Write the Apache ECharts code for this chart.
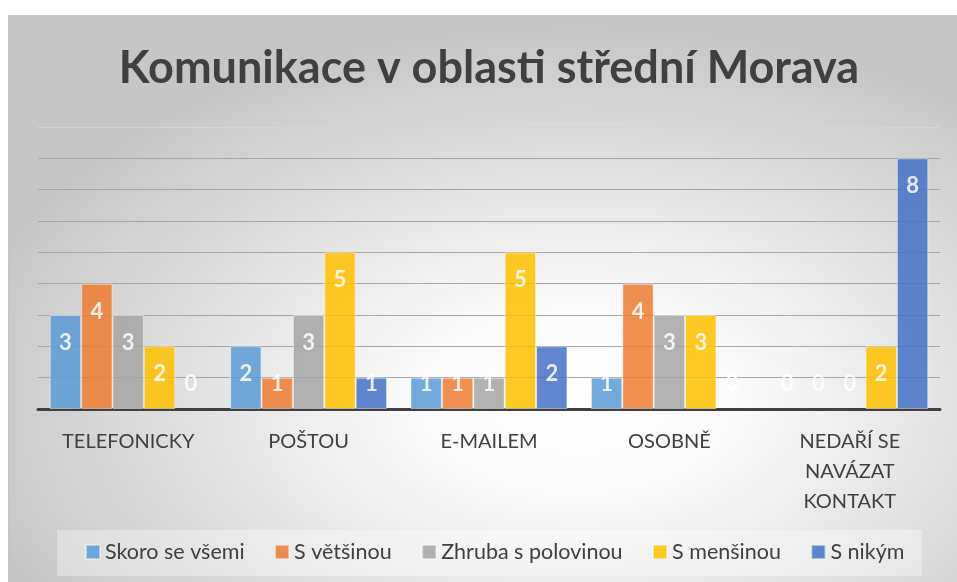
<!DOCTYPE html>
<html>
<head>
<meta charset="utf-8">
<script src="https://cdn.jsdelivr.net/npm/echarts@6/dist/echarts.min.js"></script>
<style>
  html, body { margin: 0; padding: 0; background: #ffffff; }
  #chart { width: 957px; height: 582px; }
</style>
</head>
<body>
<div id="chart"></div>
<script>
// Communication survey, region Central Moravia
const titleText = 'Komunikace v oblasti střední Morava';
const categories = ['TELEFONICKY', 'POŠTOU', 'E-MAILEM', 'OSOBNĚ', 'NEDAŘÍ SE\nNAVÁZAT\nKONTAKT'];
const seriesNames = ['Skoro se všemi', 'S většinou', 'Zhruba s polovinou', 'S menšinou', 'S nikým'];
const skoroSeVsemi = [3, 2, 1, 1, 0];
const sVetsinou = [4, 1, 1, 4, 0];
const zhrubaSPolovinou = [3, 3, 1, 3, 0];
const sMensinou = [2, 5, 5, 3, 2];
const sNikym = [0, 1, 2, 0, 8];
const seriesValues = [skoroSeVsemi, sVetsinou, zhrubaSPolovinou, sMensinou, sNikym];
const seriesColors = ['#5B9BD5', '#ED7D31', '#A5A5A5', '#FFC000', '#4472C4'];
const yMax = 9;

const FONT = 'Lato, "Open Sans", sans-serif';

const chart = echarts.init(document.getElementById('chart'), null, { renderer: 'canvas' });

// short bars get their value label lifted above the baseline
const lowLabel = { position: 'insideBottom', distance: 14 };

function barItem(v) {
  if (v >= 2) return v;
  const item = { value: v, label: lowLabel };
  // an empty bar should not leave an outline on the axis
  if (v === 0) item.itemStyle = { borderWidth: 0 };
  return item;
}

const series = seriesNames.map((name, i) => ({
  name,
  type: 'bar',
  barGap: '0%',
  barCategoryGap: '13%',
  itemStyle: {
    color: seriesColors[i],
    opacity: 0.85,
    borderColor: 'rgba(255,255,255,0.55)',
    borderWidth: 1
  },
  label: {
    show: true,
    position: 'insideTop',
    distance: 17,
    color: '#ffffff',
    fontFamily: FONT,
    fontWeight: 'bold',
    fontSize: 22
  },
  data: seriesValues[i].map(barItem)
}));

const splitColors = [];
for (let k = 0; k < yMax; k++) splitColors.push('#a6a6a6');
splitColors.push('#d4d4d4');

chart.setOption({
  animation: false,
  backgroundColor: '#ffffff',
  graphic: [
    {
      // chart area panel with soft radial shading
      type: 'rect',
      z: -10,
      silent: true,
      x: 8,
      y: 15,
      scaleX: 949 / 567,
      shape: { x: 0, y: 0, width: 567, height: 567 },
      style: {
        fill: {
          type: 'radial',
          x: 0.6, y: 0.68, r: 0.66,
          colorStops: [
            { offset: 0, color: '#ffffff' },
            { offset: 0.25, color: '#fbfbfb' },
            { offset: 1, color: '#c6c6c6' }
          ]
        }
      }
    },
    {
      type: 'rect',
      z: -9,
      silent: true,
      shape: { x: 8.5, y: 15.5, width: 960, height: 580 },
      style: { fill: 'none', stroke: '#c4c4c4', lineWidth: 1 }
    },
    {
      // legend box
      type: 'rect',
      z: -8,
      silent: true,
      shape: { x: 57, y: 530, width: 865, height: 46 },
      style: { fill: 'rgba(255,255,255,0.35)' }
    }
  ],
  title: {
    text: titleText,
    left: 489,
    textAlign: 'center',
    top: 46,
    padding: 0,
    textStyle: {
      fontFamily: FONT,
      fontWeight: 'bold',
      fontSize: 45,
      lineHeight: 45,
      color: '#404040'
    }
  },
  legend: {
    data: seriesNames,
    left: 85,
    top: 541,
    padding: 0,
    itemWidth: 14,
    itemHeight: 14,
    itemGap: 29.5,
    icon: 'rect',
    textStyle: {
      fontFamily: FONT,
      fontSize: 21.5,
      color: '#404040'
    }
  },
  grid: { left: 38, right: 17, top: 127, bottom: 173, containLabel: false },
  xAxis: {
    type: 'category',
    data: categories,
    axisLine: { lineStyle: { color: '#404040', width: 3 } },
    axisTick: { show: false },
    axisLabel: {
      interval: 0,
      margin: 18,
      fontFamily: FONT,
      fontSize: 20,
      lineHeight: 30,
      color: '#404040'
    }
  },
  yAxis: {
    type: 'value',
    min: 0,
    max: yMax,
    interval: 1,
    axisLabel: { show: false },
    axisLine: { show: false },
    axisTick: { show: false },
    splitLine: { lineStyle: { color: splitColors, width: 1 } }
  },
  series
});
</script>
</body>
</html>
